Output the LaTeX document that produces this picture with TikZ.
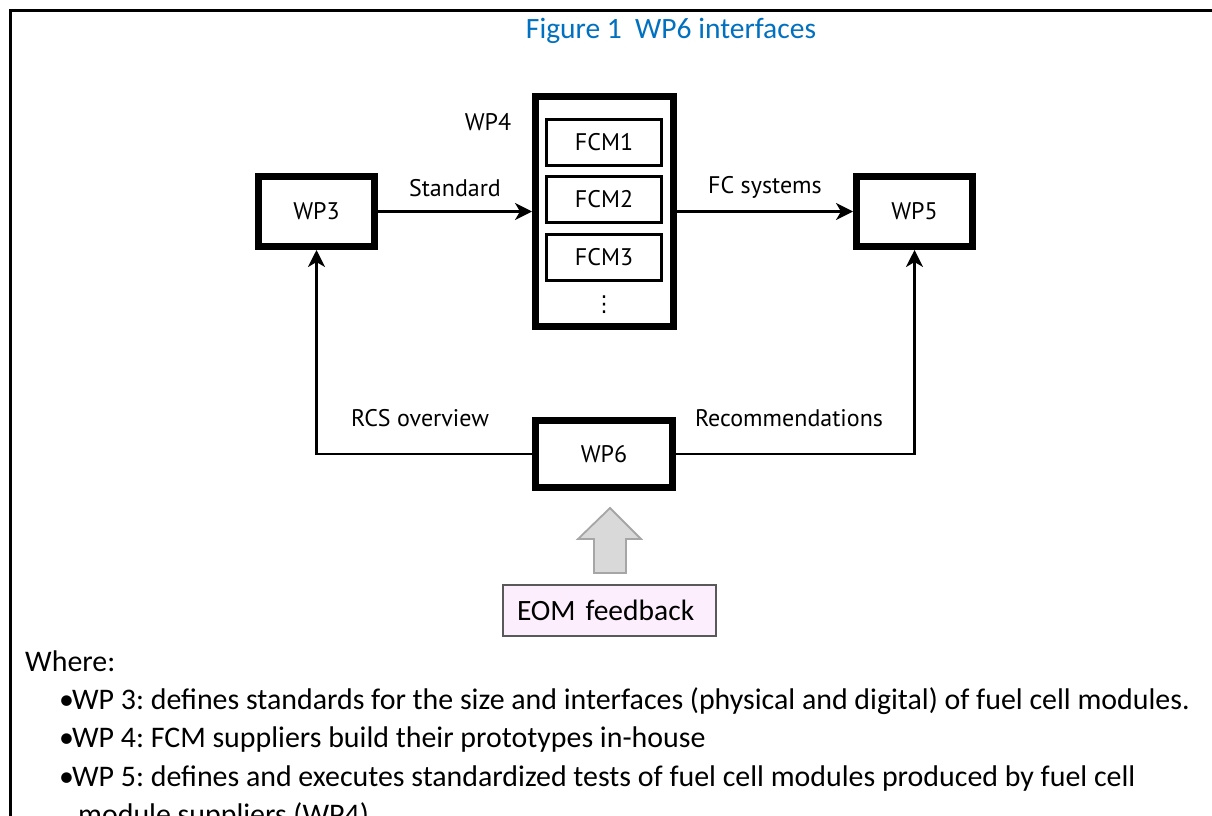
\documentclass[tikz,border=0pt]{standalone}
\usepackage{fontspec}
\setmainfont{Carlito}
\newfontfamily\diagfont{PT Sans}
\newfontfamily\dotsfont{DejaVu Sans}
\usetikzlibrary{arrows.meta}
\frenchspacing

\definecolor{captionblue}{RGB}{0,112,192}
\definecolor{arrowfill}{RGB}{217,217,217}
\definecolor{arrowedge}{RGB}{166,166,166}
\definecolor{eomfill}{RGB}{253,238,253}
\definecolor{eomedge}{RGB}{89,89,89}

\tikzset{
  wpbox/.style={draw, line width=7pt, inner sep=0pt,
    minimum width=116pt, minimum height=70pt,
    font=\diagfont\fontsize{24}{28}\selectfont},
  wpframe/.style={draw, line width=7pt, inner sep=0pt,
    minimum width=138pt, minimum height=230pt},
  fcmbox/.style={draw, line width=3pt, inner sep=0pt,
    minimum width=115pt, minimum height=46pt,
    font=\diagfont\fontsize{24}{28}\selectfont},
  lbl/.style={inner sep=0pt, font=\diagfont\fontsize{24}{28}\selectfont},
  flow/.style={line width=2.5pt, -{Stealth[length=17pt,width=17pt,inset=5pt]}},
  bodytext/.style={anchor=base west, inner sep=0pt,
    font=\fontsize{29.9}{36}\selectfont},
  eombox/.style={draw=eomedge, fill=eomfill, line width=1.2pt,
    inner xsep=14pt, inner ysep=0pt, minimum height=51pt,
    text width=185pt, align=left,
    font=\fontsize{29.5}{36}\selectfont},
}

\begin{document}
\begin{tikzpicture}[x=1pt, y=-1pt]
  \useasboundingbox (0,0) rectangle (1212,816);

  % page frame (top and left edges)
  \draw[line width=3.5pt] (10.5,816) -- (10.5,10.5) -- (1212,10.5);

  % caption
  \node[inner sep=0pt, text=captionblue, font=\fontsize{29.5}{36}\selectfont]
    (caption) at (671,31) {Figure 1\hspace{0.45em}WP6 interfaces};

  % work packages
  \node[wpbox] (wp3) at (316.5,211.5) {WP3};
  \node[wpbox] (wp5) at (914.5,211.5) {WP5};
  \node[wpframe] (wp4) at (604.5,211.5) {};
  \node[lbl] (wp4lbl) at (488,122) {WP4};
  \node[fcmbox] (fcm1) at (604,142.5) {FCM1};
  \node[fcmbox] (fcm2) at (604,199.5) {FCM2};
  \node[fcmbox] (fcm3) at (604,257.5) {FCM3};
  \node[inner sep=0pt, font=\dotsfont\fontsize{22}{24}\selectfont] (more) at (604,305) {⋮};
  \node[wpbox, minimum width=137pt, minimum height=67pt] (wp6) at (604,454) {WP6};

  % flows
  \draw[flow] (wp3.east) -- node[lbl, above=13pt] (std) {Standard} (wp4.west);
  \draw[flow] (wp4.east |- wp5.west) -- node[lbl, above=12pt] (fcs) {FC systems} (wp5.west);
  \draw[flow] (wp6.west) -| (wp3.south);
  \draw[flow] (wp6.east) -| (wp5.south);
  \node[lbl] (rcs) at (420,418) {RCS overview};
  \node[lbl] (rec) at (789,418) {Recommendations};

  % feedback source
  \node[eombox] (eom) at (609.5,610.5) {EOM feedback};
  \coordinate (tip) at (610,508);
  \draw[draw=arrowedge, fill=arrowfill, line width=1.8pt, line join=miter]
    (594,573) -- (594,539) -- (578,539) -- (tip) -- (641,539)
    -- (626,539) -- (626,573) -- cycle;

  % explanatory text
  \node[bodytext] (where) at (25,671) {Where:};
  \node[bodytext] (item3) at (59,709) {•\kern-2pt WP 3: defines standards for the size and interfaces (physical and digital) of fuel cell modules.};
  \node[bodytext] (item4) at (59,747.5) {•\kern-2pt WP 4: FCM suppliers build their prototypes in-house};
  \node[bodytext] (item5) at (59,786) {•\kern-2pt WP 5: defines and executes standardized tests of fuel cell modules produced by fuel cell};
  \node[bodytext] (item5b) at (78,824.5) {module suppliers (WP4)};
\end{tikzpicture}
\end{document}
